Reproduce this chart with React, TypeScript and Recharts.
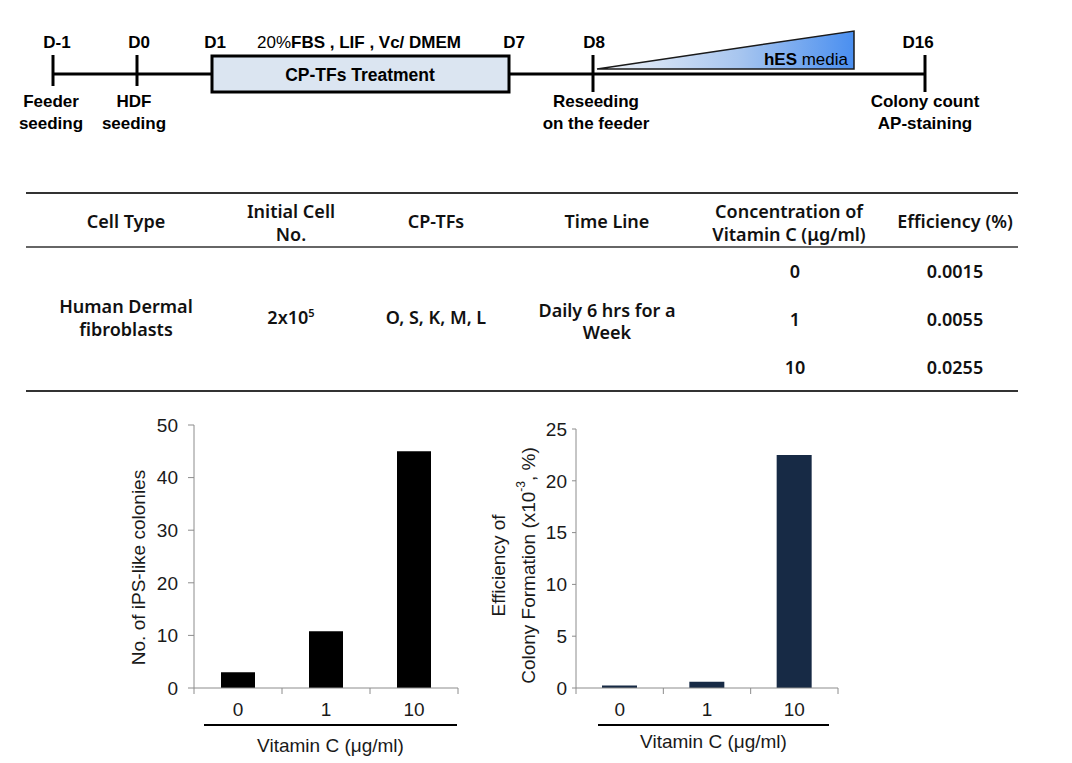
import React from "react";
import { BarChart, Bar, XAxis, YAxis } from "recharts";

// chart data
const vitaminC = ["0", "1", "10"];
const colonies = [3, 10.8, 45];
const efficiency = [0.25, 0.6, 22.5];
const colonyTicks = [0, 10, 20, 30, 40, 50];
const efficiencyTicks = [0, 5, 10, 15, 20, 25];

// timeline text
const timelineDays = ["D-1", "D0", "D1", "D7", "D8", "D16"];
const timelineEvents = [
  ["Feeder", "seeding"],
  ["HDF", "seeding"],
  ["Reseeding", "on the feeder"],
  ["Colony count", "AP-staining"],
];

// table text
const tableHeader = [
  ["Cell Type"],
  ["Initial Cell", "No."],
  ["CP-TFs"],
  ["Time Line"],
  ["Concentration of", "Vitamin C (μg/ml)"],
  ["Efficiency (%)"],
];
const cellType = ["Human Dermal", "fibroblasts"];
const initialCellBase = "2x10";
const initialCellExp = "5";
const cpTFs = "O, S, K, M, L";
const timeLine = ["Daily 6 hrs for a", "Week"];
const concentrations = ["0", "1", "10"];
const efficiencyPct = ["0.0015", "0.0055", "0.0255"];

const colonyData = vitaminC.map((d, i) => ({ dose: d, value: colonies[i] }));
const efficiencyData = vitaminC.map((d, i) => ({ dose: d, value: efficiency[i] }));

const AXIS = "#8c8c8c";
const ARIAL = "'Liberation Sans', Arial, sans-serif";
const CHART_FONT = ARIAL;
const FS = 19;
const TABLE_FONT = "'Noto Sans', sans-serif";

const renderXTick = (props: any, count: number) => {
  const { x, y, payload, index } = props;
  const half = payload.offset || 44;
  return (
    <g>
      <line x1={x - half} x2={x - half} y1={y} y2={y + 6} stroke={AXIS} />
      {index === count - 1 && <line x1={x + half} x2={x + half} y1={y} y2={y + 6} stroke={AXIS} />}
      <text x={x} y={y + 28} textAnchor="middle" fontSize={FS} fontFamily={CHART_FONT} fill="#1a1a1a">
        {payload.value}
      </text>
    </g>
  );
};

const XTitle = ({ viewBox, left, right, titleY }: any) => {
  const { x, y, width } = viewBox;
  return (
    <g>
      <line x1={x + left} x2={x + width - right} y1={y + 37} y2={y + 37} stroke="#000" strokeWidth={2} />
      <text x={x + (left + width - right) / 2} y={y + titleY} textAnchor="middle" fontSize={FS} fontFamily={CHART_FONT} fill="#1a1a1a">
        Vitamin C (μg/ml)
      </text>
    </g>
  );
};

const Timeline = () => {
  const dayX = [57, 139, 215, 514, 594, 918];
  const eventX = [51, 134, 596, 925];
  return (
    <g fontFamily={ARIAL} fill="#000">
      <defs>
        <linearGradient id="hesGrad" x1="0" x2="1" y1="0" y2="0">
          <stop offset="0%" stopColor="#f2f4f8" />
          <stop offset="55%" stopColor="#a8c6ef" />
          <stop offset="100%" stopColor="#4a8ff0" />
        </linearGradient>
      </defs>
      <line x1={53} x2={925} y1={74} y2={74} stroke="#000" strokeWidth={3} />
      {[53, 137].map((x) => (
        <line key={x} x1={x} x2={x} y1={55} y2={86} stroke="#000" strokeWidth={3} />
      ))}
      {[593, 925].map((x) => (
        <line key={x} x1={x} x2={x} y1={55} y2={92} stroke="#000" strokeWidth={3} />
      ))}
      <rect x={212} y={56} width={297} height={36} fill="#dbe5f1" stroke="#000" strokeWidth={3} />
      <text x={360} y={81} textAnchor="middle" fontSize={17.5} fontWeight="bold">CP-TFs Treatment</text>
      <polygon points="597,69 854,31 854,69" fill="url(#hesGrad)" stroke="#1a1a1a" strokeWidth={1.5} />
      <text x={848} y={65} textAnchor="end" fontSize={17}>
        <tspan fontWeight="bold">hES</tspan> media
      </text>
      {timelineDays.map((d, i) => (
        <text key={d} x={dayX[i]} y={48} textAnchor="middle" fontSize={17} fontWeight="bold">{d}</text>
      ))}
      <text x={359} y={48} textAnchor="middle" fontSize={17}>
        20%<tspan fontWeight="bold">FBS , LIF , Vc/ DMEM</tspan>
      </text>
      {timelineEvents.map((lines, i) => (
        <g key={i}>
          <text x={eventX[i]} y={107} textAnchor="middle" fontSize={17} fontWeight="bold">{lines[0]}</text>
          <text x={eventX[i]} y={129} textAnchor="middle" fontSize={17} fontWeight="bold">{lines[1]}</text>
        </g>
      ))}
    </g>
  );
};

const Table = () => {
  const colX = [126, 291, 436, 607, 789, 955];
  const rowY = [278, 326, 374];
  const t = (x: number, y: number, s: string, key?: string) => (
    <text key={key} x={x} y={y} textAnchor="middle">{s}</text>
  );
  return (
    <g fontFamily={TABLE_FONT} fontSize={18} fontWeight={600} fill="#111">
      <line x1={26} x2={1018} y1={193} y2={193} stroke="#333" strokeWidth={2} />
      <line x1={26} x2={1018} y1={247} y2={247} stroke="#333" strokeWidth={1.5} />
      <line x1={26} x2={1018} y1={391} y2={391} stroke="#333" strokeWidth={2} />
      {tableHeader.map((lines, i) =>
        lines.length === 1
          ? t(colX[i], 228, lines[0], "h" + i)
          : lines.map((s, j) => t(colX[i], 218 + j * 23, s, "h" + i + j))
      )}
      {cellType.map((s, j) => t(colX[0], 313 + j * 23, s, "c" + j))}
      <text x={colX[1]} y={324} textAnchor="middle">
        {initialCellBase}
        <tspan fontSize={11} dy={-7}>{initialCellExp}</tspan>
      </text>
      {t(colX[2], 324, cpTFs)}
      {timeLine.map((s, j) => t(colX[3], 317 + j * 22, s, "t" + j))}
      {concentrations.map((s, j) => t(795, rowY[j], s, "v" + j))}
      {efficiencyPct.map((s, j) => t(colX[5], rowY[j], s, "e" + j))}
    </g>
  );
};

export default function App() {
  return (
    <div style={{ position: "absolute", left: 0, top: 0, width: 1072, height: 763, background: "#fff" }}>
      <svg width={1072} height={400} style={{ position: "absolute", left: 0, top: 0 }}>
        <Timeline />
        <Table />
      </svg>

      <div style={{ position: "absolute", left: 100, top: 410 }}>
        <BarChart width={380} height={350} data={colonyData} margin={{ top: 15, right: 22, bottom: 12, left: 34 }}>
          <XAxis
            dataKey="dose"
            height={60}
            tickLine={false}
            tickSize={0}
            tickMargin={0}
            axisLine={{ stroke: AXIS }}
            tick={(p: any) => renderXTick(p, vitaminC.length)}
            label={{ content: (p: any) => <XTitle viewBox={p.viewBox} left={10} right={1} titleY={64} /> }}
          />
          <YAxis
            domain={[0, 50]}
            ticks={colonyTicks}
            width={60}
            tickSize={6}
            tickMargin={10}
            axisLine={{ stroke: AXIS }}
            tickLine={{ stroke: AXIS }}
            tick={{ fill: "#1a1a1a", fontSize: FS, fontFamily: CHART_FONT }}
            label={{
              content: (p: any) => {
                const vb = p.viewBox;
                const cx = vb.x + 4;
                const cy = vb.y + vb.height / 2 + 11;
                return (
                  <text x={cx} y={cy} transform={`rotate(-90 ${cx} ${cy})`} textAnchor="middle" dominantBaseline="central" fontSize={FS} fontFamily={CHART_FONT} fill="#1a1a1a">
                    No. of iPS-like colonies
                  </text>
                );
              },
            }}
          />
          <Bar dataKey="value" fill="#000" barSize={34} isAnimationActive={false} />
        </BarChart>
      </div>

      <div style={{ position: "absolute", left: 480, top: 410 }}>
        <BarChart width={380} height={350} data={efficiencyData} margin={{ top: 19, right: 22, bottom: 12, left: 36 }}>
          <XAxis
            dataKey="dose"
            height={60}
            tickLine={false}
            tickSize={0}
            tickMargin={0}
            axisLine={{ stroke: AXIS }}
            tick={(p: any) => renderXTick(p, vitaminC.length)}
            label={{ content: (p: any) => <XTitle viewBox={p.viewBox} left={22} right={9} titleY={60} /> }}
          />
          <YAxis
            domain={[0, 25]}
            ticks={efficiencyTicks}
            width={60}
            tickSize={4}
            tickMargin={5}
            axisLine={{ stroke: AXIS }}
            tickLine={{ stroke: AXIS }}
            tick={{ fill: "#1a1a1a", fontSize: FS, fontFamily: CHART_FONT }}
            label={{
              content: (p: any) => {
                const vb = p.viewBox;
                const cy = vb.y + vb.height / 2 + 7;
                const x1 = vb.x - 18;
                const x2 = vb.x + 12;
                return (
                  <g fontSize={FS} fontFamily={CHART_FONT} fill="#1a1a1a">
                    <text x={x1} y={cy} transform={`rotate(-90 ${x1} ${cy})`} textAnchor="middle" dominantBaseline="central">
                      Efficiency of
                    </text>
                    <text x={x2} y={cy} transform={`rotate(-90 ${x2} ${cy})`} textAnchor="middle" dominantBaseline="central">
                      Colony Formation (x10<tspan fontSize={12} dy={-7}>-3</tspan>
                      <tspan dy={7}>, %)</tspan>
                    </text>
                  </g>
                );
              },
            }}
          />
          <Bar dataKey="value" fill="#172a45" barSize={35} isAnimationActive={false} />
        </BarChart>
      </div>
    </div>
  );
}
